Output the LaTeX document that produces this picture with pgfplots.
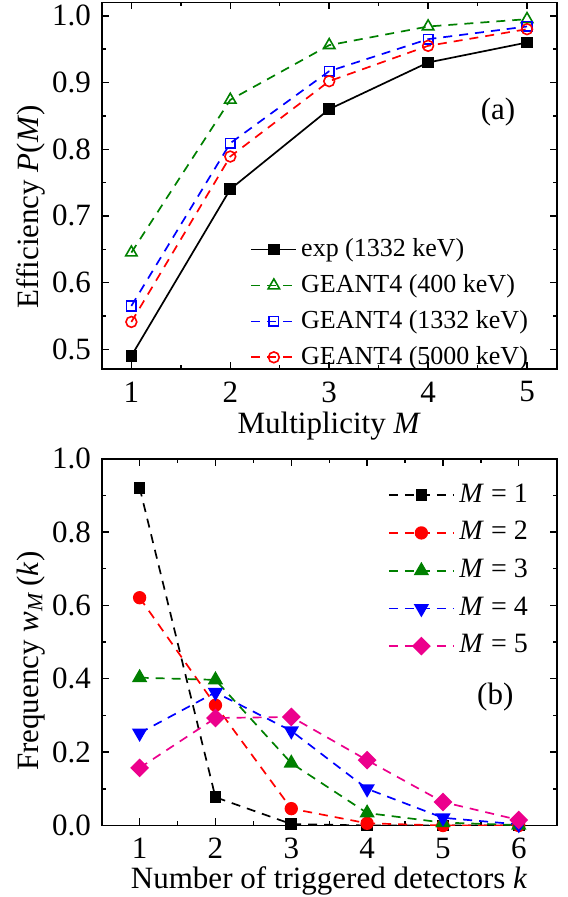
\documentclass[border=0pt]{standalone}
\usepackage{fontspec}
\setmainfont{Liberation Serif}
\usepackage{pgfplots}
\pgfplotsset{compat=1.18}
\definecolor{mygreen}{RGB}{0,128,0}
\newcommand{\ft}{\fontsize{15.5}{18}\selectfont}
\newcommand{\fl}{\fontsize{15.3}{18}\selectfont}
\pgfplotsset{
  mystyle/.style={
    scale only axis, width=227.5pt, height=183.4pt,
    tick align=inside, tick pos=both,
    major tick length=3.5pt, minor tick length=2pt,
    axis line style={line width=0.9pt},
    every tick/.style={black, line width=0.7pt},
    /pgf/number format/assume math mode=true,
    tick label style={font=\ft},
    xticklabel style={inner sep=0pt, yshift=-6pt},
    label style={font=\fl, inner sep=0pt},
    yticklabel style={/pgf/number format/fixed, /pgf/number format/fixed zerofill, /pgf/number format/precision=1},
    legend style={draw=none, fill=none},
    legend cell align=left,
    every axis plot/.append style={line width=0.85pt},
  },
  dsh/.style={dash pattern=on 4.5pt off 3.5pt},
}
\begin{document}
\ft
\begin{tikzpicture}
\useasboundingbox (-50.85pt,-35.75pt) rectangle (232.65pt,412.75pt);
% ---------------- (a)
\begin{axis}[mystyle,
  at={(0,228.1pt)}, anchor=south west,
  xmin=0.7, xmax=5.3, ymin=0.47, ymax=1.02,
  xtick={1,2,3,4,5}, minor x tick num=1,
  ytick={0.5,0.6,0.7,0.8,0.9,1.0}, minor y tick num=1,
  xlabel={Multiplicity \textit{M}},
  ylabel={Efficiency \textit{P}(\textit{M})},
  every axis x label/.style={at={(axis description cs:0.5,-0.175)}, anchor=base},
  every axis y label/.style={at={(axis description cs:-0.156,0.443)}, anchor=center, rotate=90},
  legend image code/.code={\draw[mark repeat=2,mark phase=2] plot coordinates {(0pt,0pt) (11.25pt,0pt) (22.5pt,0pt)};},
  legend style={at={(axis description cs:0.313,0.38)}, anchor=north west, row sep=2.6pt, font=\fontsize{13}{15}\selectfont},
]
\addplot[black, mark=square*, mark size=2.5pt, mark options={solid}] coordinates {(1,0.490) (2,0.740) (3,0.860) (4,0.930) (5,0.960)};
\addlegendentry{exp (1332 keV)}
\addplot[mygreen, dsh, mark=triangle, mark size=3.3pt, mark options={solid, line width=0.8pt}] coordinates {(1,0.645) (2,0.874) (3,0.956) (4,0.984) (5,0.995)};
\addlegendentry{GEANT4 (400 keV)}
\addplot[blue, dsh, mark=square, mark size=2.4pt, mark options={solid, line width=0.8pt}] coordinates {(1,0.565) (2,0.809) (3,0.917) (4,0.965) (5,0.984)};
\addlegendentry{GEANT4 (1332 keV)}
\addplot[red, dsh, mark=o, mark size=2.7pt, mark options={solid, line width=0.8pt}] coordinates {(1,0.541) (2,0.789) (3,0.902) (4,0.955) (5,0.980)};
\addlegendentry{GEANT4 (5000 keV)}
\node[anchor=east, font=\ft] at (axis cs:4.99,0.855) {(a)};
\end{axis}
% ---------------- (b)
\begin{axis}[mystyle,
  at={(0,0)}, anchor=south west,
  xmin=0.5, xmax=6.5, ymin=0, ymax=1,
  xtick={1,2,3,4,5,6}, minor x tick num=1,
  ytick={0,0.2,0.4,0.6,0.8,1.0}, minor y tick num=1,
  xlabel={Number of triggered detectors \textit{k}},
  ylabel={Frequency \textit{w}\textsubscript{\textit{M}}\,(\textit{k})},
  every axis x label/.style={at={(axis description cs:0.5,-0.171)}, anchor=base},
  every axis y label/.style={at={(axis description cs:-0.156,0.448)}, anchor=center, rotate=90},
  legend image code/.code={\draw[mark repeat=2,mark phase=2] plot coordinates {(0pt,0pt) (16.3pt,0pt) (32.6pt,0pt)};},
  legend style={at={(axis description cs:0.615,0.955)}, anchor=north west, row sep=3.3pt, font=\fontsize{14}{16}\selectfont, nodes={inner xsep=2.3pt}},
]
\addplot[black, dsh, mark=square*, mark size=2.5pt, mark options={solid}] coordinates {(1,0.921) (2,0.077) (3,0.004) (4,0.0) (5,0.0) (6,0.0)};
\addlegendentry{\textit{M} = 1}
\addplot[red, dsh, mark=*, mark size=2.9pt, mark options={solid}] coordinates {(1,0.621) (2,0.328) (3,0.046) (4,0.006) (5,0.0) (6,0.0)};
\addlegendentry{\textit{M} = 2}
\addplot[mygreen, dsh, mark=triangle*, mark size=3.6pt, mark options={solid}] coordinates {(1,0.403) (2,0.397) (3,0.170) (4,0.034) (5,0.008) (6,0.001)};
\addlegendentry{\textit{M} = 3}
\addplot[blue, dsh, mark=triangle*, mark size=3.6pt, mark options={solid, rotate=180}] coordinates {(1,0.252) (2,0.363) (3,0.258) (4,0.100) (5,0.021) (6,0.003)};
\addlegendentry{\textit{M} = 4}
\addplot[magenta, dsh, mark=square*, mark size=2.9pt, mark options={solid, rotate=45}] coordinates {(1,0.157) (2,0.293) (3,0.296) (4,0.178) (5,0.064) (6,0.015)};
\addlegendentry{\textit{M} = 5}
\node[anchor=east, font=\ft] at (axis cs:6.07,0.35) {(b)};
\end{axis}
\end{tikzpicture}
\end{document}
